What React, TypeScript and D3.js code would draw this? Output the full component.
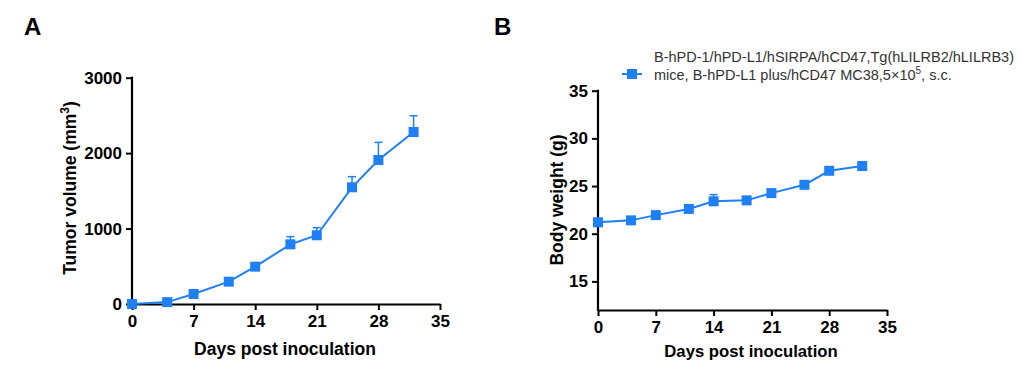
import React, { useEffect, useRef } from 'react';
import * as d3 from 'd3';

// days of measurement (shared by both panels)
const days = [0, 4, 7, 11, 14, 18, 21, 25, 28, 32];
// panel A: tumor volume mean and SEM
const tumorMean = [0, 25, 133, 296, 495, 791, 911, 1547, 1909, 2280];
const tumorSem = [5, 10, 20, 20, 30, 102, 101, 141, 234, 216];
// panel B: body weight mean and SEM
const weightMean = [21.2, 21.4, 21.95, 22.6, 23.4, 23.5, 24.26, 25.13, 26.6, 27.1];
const weightSem = [0.2, 0.2, 0.2, 0.3, 0.7, 0.3, 0.3, 0.3, 0.3, 0.3];
const xTicks = [0, 7, 14, 21, 28, 35];
const tumorTicks = [0, 1000, 2000, 3000];
const weightTicks = [15, 20, 25, 30, 35];
const legendLines = ['B-hPD-1/hPD-L1/hSIRPA/hCD47,Tg(hLILRB2/hLILRB3)', 'mice, B-hPD-L1 plus/hCD47 MC38,5×10'];

const blue = '#1f7ff5';
const font = 'Arial, "Liberation Sans", sans-serif';

function drawPanel(svg, opts) {
  const { x0, x1, yTop, yBottom, domainY, yTicks, mean, sem, yLabel, yLabelX, yLabelY, xTitleX, xTitleY, xTitleSize, supLabel } = opts;
  const x = d3.scaleLinear().domain([0, 35]).range([x0, x1]);
  const y = d3.scaleLinear().domain(domainY).range([yBottom, yTop]);
  const g = svg.append('g');

  // x axis
  const xa = g
    .append('g')
    .attr('transform', 'translate(0,' + yBottom + ')')
    .call(d3.axisBottom(x).tickValues(xTicks).tickFormat(d3.format('d')).tickSize(6).tickPadding(5).tickSizeOuter(0));
  // y axis
  const ya = g
    .append('g')
    .attr('transform', 'translate(' + x0 + ',0)')
    .call(d3.axisLeft(y).tickValues(yTicks).tickFormat(d3.format('d')).tickSize(6).tickPadding(4).tickSizeOuter(0));
  [xa, ya].forEach(a => {
    a.select('.domain').attr('stroke', '#000').attr('stroke-width', 2.2);
    a.selectAll('.tick line').attr('stroke', '#000').attr('stroke-width', 2);
    a.selectAll('.tick text')
      .attr('fill', '#000')
      .style('font-family', font)
      .style('font-size', '17px')
      .style('font-weight', 'bold');
  });
  // extend y domain line to meet x axis corner
  ya.select('.domain').attr('d', 'M0,' + (yTop - 1) + 'V' + (yBottom + 1));

  // error bars (upper only)
  const eb = g.append('g').attr('stroke', blue).attr('stroke-width', 1.5);
  days.forEach((d, i) => {
    const top = y(mean[i] + sem[i]);
    eb.append('line').attr('x1', x(d)).attr('x2', x(d)).attr('y1', y(mean[i])).attr('y2', top);
    eb.append('line').attr('x1', x(d) - 4).attr('x2', x(d) + 4).attr('y1', top).attr('y2', top);
  });

  // line
  g.append('path')
    .datum(days.map((d, i) => [d, mean[i]]))
    .attr('fill', 'none')
    .attr('stroke', blue)
    .attr('stroke-width', 2)
    .attr('d', d3.line().x(d => x(d[0])).y(d => y(d[1])));

  // markers
  g.selectAll('rect.m')
    .data(days.map((d, i) => [d, mean[i]]))
    .enter()
    .append('rect')
    .attr('x', d => x(d[0]) - 5)
    .attr('y', d => y(d[1]) - 5)
    .attr('width', 10)
    .attr('height', 10)
    .attr('fill', blue);

  // x title
  g.append('text')
    .attr('x', xTitleX)
    .attr('y', xTitleY)
    .attr('text-anchor', 'middle')
    .style('font-family', font)
    .style('font-size', xTitleSize)
    .style('font-weight', 'bold')
    .text('Days post inoculation');

  // y title
  const yt = g
    .append('text')
    .attr('transform', 'translate(' + yLabelX + ',' + yLabelY + ') rotate(-90)')
    .attr('text-anchor', 'middle')
    .style('font-family', font)
    .style('font-size', '17.5px')
    .style('font-weight', 'bold')
    .text(yLabel);
  if (supLabel) {
    yt.append('tspan').attr('dy', -7).style('font-size', '12px').text('3');
    yt.append('tspan').attr('dy', 7).text(')');
  }
}

function App() {
  const svgRef = useRef(null);
  useEffect(() => {
    const svg = d3.select(svgRef.current);
    svg.selectAll('*').remove();

    // panel letters
    [['A', 24], ['B', 494]].forEach(([t, xx]) => {
      svg
        .append('text')
        .attr('x', xx)
        .attr('y', 35)
        .style('font-family', font)
        .style('font-size', '24px')
        .style('font-weight', 'bold')
        .text(t);
    });

    drawPanel(svg, {
      x0: 132,
      x1: 440,
      yTop: 77.7,
      yBottom: 304,
      domainY: [0, 3000],
      yTicks: tumorTicks,
      mean: tumorMean,
      sem: tumorSem,
      yLabel: 'Tumor volume (mm',
      yLabelX: 76,
      yLabelY: 188,
      xTitleX: 285,
      xTitleY: 355,
      xTitleSize: '17.5px',
      supLabel: true,
    });
    drawPanel(svg, {
      x0: 598,
      x1: 887,
      yTop: 90.7,
      yBottom: 310,
      domainY: [12, 35],
      yTicks: weightTicks,
      mean: weightMean,
      sem: weightSem,
      yLabel: 'Body weight (g)',
      yLabelX: 563,
      yLabelY: 200,
      xTitleX: 751,
      xTitleY: 357,
      xTitleSize: '16.7px',
      supLabel: false,
    });

    // legend
    const lg = svg.append('g');
    lg.append('line')
      .attr('x1', 622)
      .attr('x2', 642)
      .attr('y1', 74)
      .attr('y2', 74)
      .attr('stroke', blue)
      .attr('stroke-width', 2);
    lg.append('rect').attr('x', 627).attr('y', 69).attr('width', 10).attr('height', 10).attr('fill', blue);
    legendLines.forEach((l, i) => {
      const t = lg
        .append('text')
        .attr('x', 654)
        .attr('y', 62 + i * 18)
        .attr('fill', '#333')
        .style('font-family', font)
        .style('font-size', '14.5px')
        .text(l);
      if (i === 1) {
        t.append('tspan').attr('dy', -6).style('font-size', '10px').text('5');
        t.append('tspan').attr('dy', 6).text(', s.c.');
      }
    });
  }, []);
  return (
    <div style={{ margin: -8 }}>
      <svg ref={svgRef} width={1022} height={371} style={{ display: 'block', background: '#fff' }} />
    </div>
  );
}

export default App;
